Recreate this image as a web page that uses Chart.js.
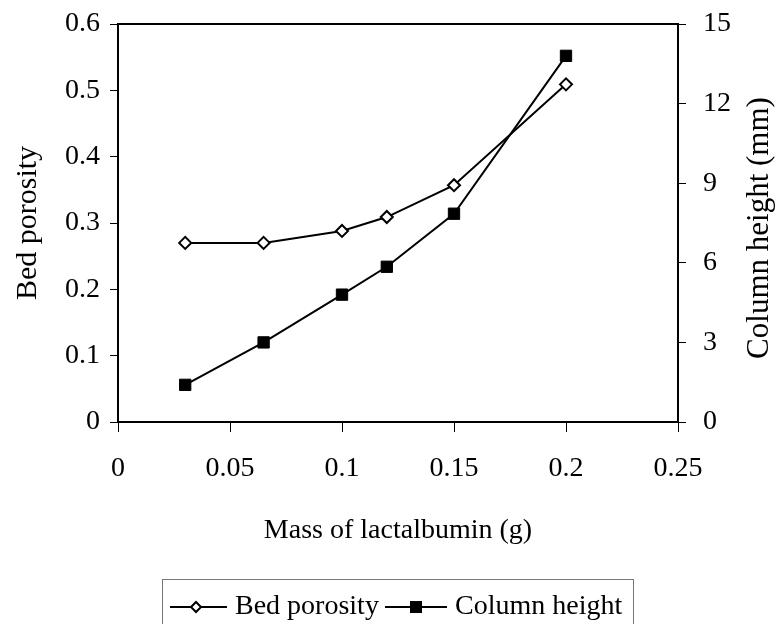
<!DOCTYPE html>
<html>
<head>
<meta charset="utf-8">
<script src="https://cdn.jsdelivr.net/npm/chart.js@4/dist/chart.umd.min.js"></script>
<style>
  html, body { margin: 0; padding: 0; background: #fff; }
  #wrap { width: 777px; height: 624px; position: relative; }
</style>
</head>
<body>
<div id="wrap"><canvas id="c" width="777" height="624"></canvas></div>
<script>
// Mass of lactalbumin (g)
const massLactalbumin = [0.03, 0.065, 0.1, 0.12, 0.15, 0.2];
// Bed porosity (left axis)
const bedPorosity = [0.27, 0.27, 0.288, 0.309, 0.357, 0.509];
// Column height in mm (right axis)
const columnHeight = [1.4, 3.0, 4.8, 5.85, 7.85, 13.8];

const xTickLabels = ['0', '0.05', '0.1', '0.15', '0.2', '0.25'];
const leftTickLabels = ['0', '0.1', '0.2', '0.3', '0.4', '0.5', '0.6'];
const rightTickLabels = ['0', '3', '6', '9', '12', '15'];

const seriesNames = ['Bed porosity', 'Column height'];
const xTitle = 'Mass of lactalbumin (g)';
const leftTitle = 'Bed porosity';
const rightTitle = 'Column height (mm)';

const FONT = '"Liberation Serif", "Times New Roman", serif';
const tickFont = { family: FONT, size: 28 };

const toXY = (xs, ys) => xs.map((x, i) => ({ x: x, y: ys[i] }));

// Fixed axis box sizes so the plot frame lands where intended
const fixVertical = w => s => { s.width = w; s.paddingTop = 0; s.paddingBottom = 0; };

// Frame top edge, right-axis title and the boxed legend
const extras = {
  id: 'extras',
  afterDraw(chart) {
    const ctx = chart.ctx;
    const a = chart.chartArea;
    ctx.save();
    // top border of the plot frame
    ctx.strokeStyle = '#000';
    ctx.lineWidth = 2;
    ctx.beginPath();
    ctx.moveTo(a.left - 1, a.top);
    ctx.lineTo(a.right + 1, a.top);
    ctx.stroke();

    // right axis title, reading bottom to top
    ctx.fillStyle = '#000';
    ctx.font = '31px ' + FONT;
    ctx.textAlign = 'center';
    ctx.textBaseline = 'middle';
    ctx.translate(760, 228);
    ctx.rotate(-Math.PI / 2);
    ctx.fillText(rightTitle, 0, 0);
    ctx.restore();

    // legend box
    ctx.save();
    ctx.strokeStyle = '#777';
    ctx.lineWidth = 1;
    ctx.strokeRect(162.5, 579.5, 471, 60);
    const ly = 607;
    ctx.font = '28px ' + FONT;
    ctx.textAlign = 'left';
    ctx.textBaseline = 'middle';
    ctx.strokeStyle = '#000';
    ctx.lineWidth = 2;
    // item 1: line with open diamond
    ctx.beginPath(); ctx.moveTo(170, ly); ctx.lineTo(227, ly); ctx.stroke();
    ctx.fillStyle = '#fff';
    ctx.beginPath();
    ctx.moveTo(196, ly - 5); ctx.lineTo(201, ly); ctx.lineTo(196, ly + 5); ctx.lineTo(191, ly); ctx.closePath();
    ctx.fill(); ctx.stroke();
    ctx.fillStyle = '#000';
    ctx.fillText(seriesNames[0], 235, ly);
    // item 2: line with filled square
    ctx.beginPath(); ctx.moveTo(385, ly); ctx.lineTo(447, ly); ctx.stroke();
    ctx.fillRect(410, ly - 6, 12, 12);
    ctx.fillText(seriesNames[1], 455, ly);
    ctx.restore();
  }
};

new Chart(document.getElementById('c'), {
  type: 'line',
  data: {
    datasets: [
      {
        label: seriesNames[0],
        data: toXY(massLactalbumin, bedPorosity),
        yAxisID: 'y',
        borderColor: '#000',
        borderWidth: 2,
        pointStyle: 'rectRot',
        pointRadius: 6,
        pointBackgroundColor: '#fff',
        pointBorderColor: '#000',
        pointBorderWidth: 2,
        tension: 0
      },
      {
        label: seriesNames[1],
        data: toXY(massLactalbumin, columnHeight),
        yAxisID: 'y2',
        borderColor: '#000',
        borderWidth: 2,
        pointStyle: 'rect',
        pointRadius: 8,
        pointBackgroundColor: '#000',
        pointBorderColor: '#000',
        pointBorderWidth: 1,
        tension: 0
      }
    ]
  },
  options: {
    responsive: false,
    animation: false,
    events: [],
    layout: { padding: { top: 24, left: 0, right: 0, bottom: 0 } },
    plugins: { legend: { display: false }, tooltip: { enabled: false } },
    scales: {
      x: {
        type: 'linear',
        min: 0, max: 0.25,
        afterBuildTicks: s => { s.ticks = xTickLabels.map(t => ({ value: parseFloat(t) })); },
        afterFit: s => { s.height = 202; s.paddingLeft = 0; s.paddingRight = 0; },
        ticks: {
          color: '#000', font: tickFont, padding: 20, maxRotation: 0, autoSkip: false,
          callback: (v, i) => xTickLabels[i]
        },
        grid: { drawOnChartArea: false, drawTicks: true, tickLength: 10, color: '#000', lineWidth: 1 },
        border: { display: true, color: '#000', width: 2 },
        title: {
          display: true, text: xTitle, color: '#000',
          font: { family: FONT, size: 28 },
          padding: { top: 0, bottom: 77 }
        }
      },
      y: {
        type: 'linear', position: 'left',
        min: 0, max: 0.6,
        afterBuildTicks: s => { s.ticks = leftTickLabels.map(t => ({ value: parseFloat(t) })); },
        afterFit: fixVertical(118),
        ticks: { color: '#000', font: tickFont, padding: 10, callback: (v, i) => leftTickLabels[i] },
        grid: { drawOnChartArea: false, drawTicks: true, tickLength: 8, color: '#000', lineWidth: 1 },
        border: { display: true, color: '#000', width: 2 },
        title: {
          display: true, text: leftTitle, color: '#000',
          font: { family: FONT, size: 30 },
          padding: { top: 10, bottom: 0 }
        }
      },
      y2: {
        type: 'linear', position: 'right',
        min: 0, max: 15,
        afterBuildTicks: s => { s.ticks = rightTickLabels.map(t => ({ value: parseFloat(t) })); },
        afterFit: fixVertical(777 - 678),
        ticks: { color: '#000', font: tickFont, padding: 17, callback: (v, i) => rightTickLabels[i] },
        grid: { drawOnChartArea: false, drawTicks: true, tickLength: 8, color: '#000', lineWidth: 1 },
        border: { display: true, color: '#000', width: 2 }
      }
    }
  },
  plugins: [extras]
});
</script>
</body>
</html>
